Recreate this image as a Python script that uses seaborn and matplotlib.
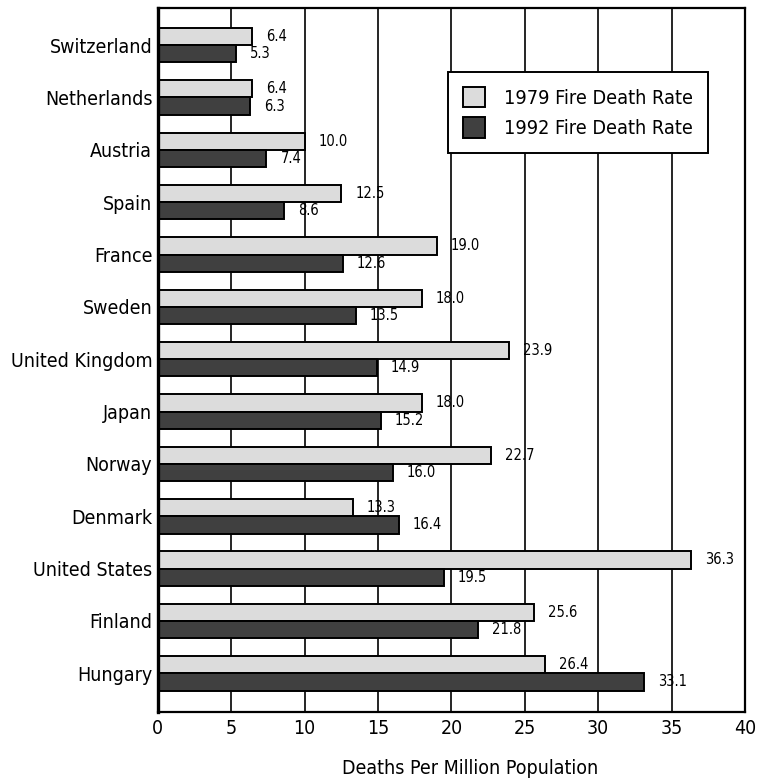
import pandas as pd
import matplotlib
matplotlib.use("Agg")
import matplotlib.pyplot as plt
import seaborn as sns

countries = ["Switzerland", "Netherlands", "Austria", "Spain", "France", "Sweden",
             "United Kingdom", "Japan", "Norway", "Denmark", "United States",
             "Finland", "Hungary"]
rate_1979 = [6.4, 6.4, 10.0, 12.5, 19.0, 18.0, 23.9, 18.0, 22.7, 13.3, 36.3, 25.6, 26.4]
rate_1992 = [5.3, 6.3, 7.4, 8.6, 12.6, 13.5, 14.9, 15.2, 16.0, 16.4, 19.5, 21.8, 33.1]
series = ["1979 Fire Death Rate", "1992 Fire Death Rate"]
colors = ["#dcdcdc", "#404040"]
x_ticks = [0, 5, 10, 15, 20, 25, 30, 35, 40]

df = pd.concat([
    pd.DataFrame({"country": countries, "rate": rate_1979, "series": series[0]}),
    pd.DataFrame({"country": countries, "rate": rate_1992, "series": series[1]}),
])

sns.set_style("white")
plt.rcParams["font.family"] = ["DejaVu Sans"]
plt.rcParams["font.stretch"] = "condensed"
plt.rcParams["text.color"] = "black"
plt.rcParams["xtick.color"] = "black"
plt.rcParams["ytick.color"] = "black"
plt.rcParams["axes.labelcolor"] = "black"

fig = plt.figure(figsize=(7.59, 7.82), dpi=100)
ax = fig.add_axes([0.208, 0.0895, 0.7736, 0.9003])

sns.barplot(data=df, y="country", x="rate", hue="series", order=countries,
            hue_order=series, palette=colors, orient="h", width=0.66,
            edgecolor="black", linewidth=1.4, saturation=1, ax=ax)

for cont in ax.containers:
    ax.bar_label(cont, fmt="%.1f", padding=10, fontsize=10.5)

ax.set_xlim(0, 40)
ax.set_ylim(12.74, -0.71)
ax.set_xticks(x_ticks)
ax.set_axisbelow(True)
ax.grid(axis="x", color="black", linewidth=1.2)
ax.grid(axis="y", visible=False)
ax.tick_params(axis="both", length=0, labelsize=14)
ax.tick_params(axis="x", pad=5)
ax.tick_params(axis="y", pad=4)
ax.set_ylabel("")
ax.set_xlabel("Deaths Per Million Population", fontsize=14)
ax.xaxis.set_label_coords(0.532, -0.067)
for sp in ax.spines.values():
    sp.set_visible(True)
    sp.set_color("black")
    sp.set_linewidth(1.6)
ax.spines["left"].set_linewidth(2.4)

leg = ax.legend(loc="upper right", bbox_to_anchor=(0.937, 0.909), borderaxespad=0,
                fancybox=False, frameon=True, fontsize=14.2, handlelength=1.1,
                handleheight=1.2, borderpad=0.75, labelspacing=0.5, handletextpad=1.0)
leg.get_frame().set_edgecolor("black")
leg.get_frame().set_linewidth(1.4)
leg.get_frame().set_alpha(1)

fig.savefig("out.png", dpi=100)
